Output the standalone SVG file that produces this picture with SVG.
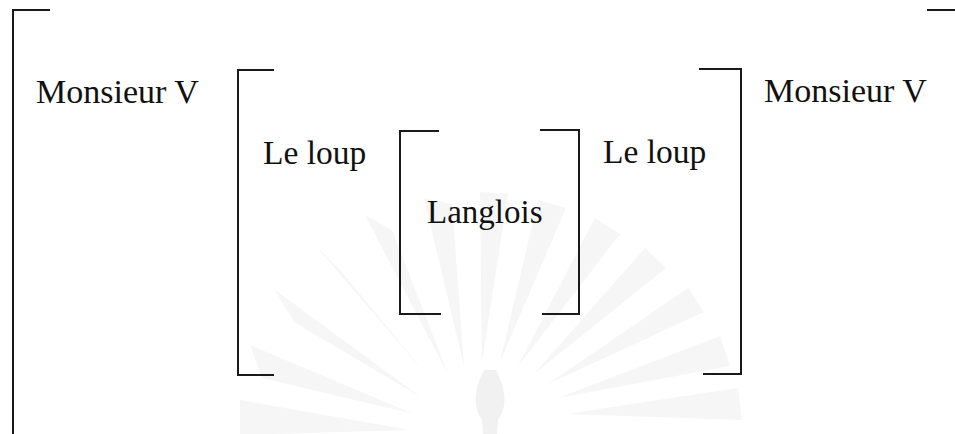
<svg xmlns="http://www.w3.org/2000/svg" width="955" height="434" viewBox="0 0 955 434">
<style>
.br{fill:none;stroke:#1a1a1a;stroke-width:2;stroke-linecap:square;stroke-linejoin:miter}
.t{font-family:"Liberation Serif","Times New Roman",serif;font-size:34px;fill:#111}
.wm{fill:#f6f6f6}
</style>
<rect width="955" height="434" fill="#fff"/>
<g id="watermark" transform="translate(490,440)">
<g class="wm">
<path d="M-80,-10 L-250,-40 L-250,-5 Z"/>
<path d="M-76,-26 L-240,-95 L-228,-62 Z"/>
<path d="M-68,-42 L-215,-150 L-196,-118 Z"/>
<path d="M-56,-56 L-175,-195 L-150,-170 Z"/>
<path d="M-42,-66 L-125,-225 L-98,-210 Z"/>
<path d="M-26,-74 L-66,-242 L-38,-236 Z"/>
<path d="M-8,-78 L-10,-248 L18,-246 Z"/>
<path d="M10,-78 L48,-240 L76,-232 Z"/>
<path d="M28,-74 L105,-222 L130,-206 Z"/>
<path d="M44,-66 L155,-192 L176,-172 Z"/>
<path d="M58,-56 L198,-152 L214,-128 Z"/>
<path d="M68,-42 L230,-104 L240,-74 Z"/>
<path d="M76,-26 L248,-52 L252,-20 Z"/>
</g>
<path d="M-6,-70 Q-22,-40 -8,-20 L-6,10 L6,10 L8,-20 Q22,-40 6,-70 Z" fill="#f1f1f1"/>
</g>
<g id="outer-bracket">
<polyline class="br" points="49,10 13,10 13,434"/>
<polyline class="br" points="928,10 956,10"/>
</g>
<g id="node-monsieur-left"><text class="t" x="36" y="103">Monsieur V</text></g>
<g id="node-monsieur-right"><text class="t" x="764" y="102">Monsieur V</text></g>
<g id="middle-bracket">
<polyline class="br" points="273,70 238,70 238,375 273,375"/>
<polyline class="br" points="700,69 741,69 741,374 704,374"/>
</g>
<g id="node-loup-left"><text class="t" x="263" y="164" style="font-size:33.5px">Le loup</text></g>
<g id="node-loup-right"><text class="t" x="603" y="163" style="font-size:33.5px">Le loup</text></g>
<g id="inner-bracket">
<polyline class="br" points="438,131 400,131 400,314 440,314"/>
<polyline class="br" points="541,130 579,130 579,314 543,314"/>
</g>
<g id="node-langlois"><text class="t" x="427" y="223" style="font-size:33px">Langlois</text></g>
<g id="connectors"></g>
</svg>
